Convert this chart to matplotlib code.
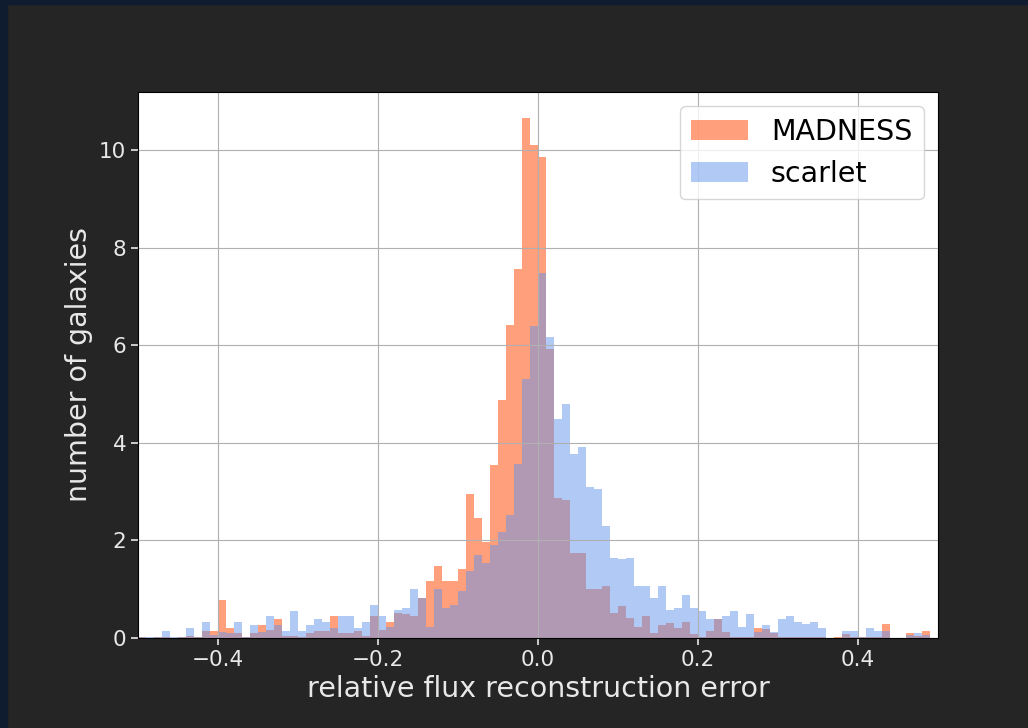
import numpy as np
import matplotlib
matplotlib.use('Agg')
import matplotlib.pyplot as plt
from matplotlib.patches import Rectangle

# bin edges of the normalised histograms
bin_edges = np.linspace(-0.5, 0.5, 101)

# density per bin (bins of 0.01 from -0.5 to 0.5)
madness = [0.02, 0.0, 0.02, 0.03, 0.0, 0.02, 0.04, 0.02, 0.15, 0.15,
           0.78, 0.21, 0.1, 0.02, 0.1, 0.27, 0.16, 0.38, 0.05, 0.05,
           0.03, 0.1, 0.14, 0.14, 0.45, 0.1, 0.1, 0.14, 0.05, 0.45,
           0.16, 0.33, 0.52, 0.5, 0.45, 0.81, 1.17, 1.48, 1.17, 1.17,
           1.41, 2.96, 2.45, 1.97, 3.55, 4.88, 6.41, 7.56, 10.66, 10.1,
           9.86, 5.92, 2.86, 2.83, 1.75, 1.75, 1.0, 1.0, 1.07, 0.51,
           0.66, 0.40, 0.23, 0.45, 0.1, 0.27, 0.31, 0.2, 0.32, 0.08,
           0.03, 0.15, 0.38, 0.13, 0.03, 0.02, 0.03, 0.21, 0.18, 0.1,
           0.02, 0.02, 0.02, 0.02, 0.02, 0.02, 0.01, 0.03, 0.08, 0.02,
           0.02, 0.02, 0.03, 0.28, 0.01, 0.01, 0.1, 0.05, 0.15, 0.0]
scarlet = [0.02, 0.02, 0.02, 0.15, 0.02, 0.02, 0.21, 0.03, 0.33, 0.06,
           0.13, 0.1, 0.33, 0.03, 0.27, 0.12, 0.45, 0.27, 0.14, 0.56,
           0.14, 0.27, 0.38, 0.33, 0.2, 0.45, 0.45, 0.2, 0.33, 0.68,
           0.45, 0.22, 0.57, 0.62, 1.0, 0.82, 0.22, 1.0, 0.62, 0.68,
           0.97, 1.37, 1.71, 1.53, 1.9, 2.18, 2.53, 3.56, 5.3, 6.39,
           7.48, 6.17, 4.48, 4.79, 3.78, 3.92, 3.10, 3.05, 2.3, 1.65,
           1.61, 1.65, 1.07, 1.07, 0.81, 1.07, 0.57, 0.62, 0.88, 0.62,
           0.56, 0.38, 0.38, 0.45, 0.56, 0.22, 0.5, 0.12, 0.27, 0.13,
           0.38, 0.45, 0.33, 0.28, 0.33, 0.21, 0.01, 0.01, 0.15, 0.15,
           0.02, 0.21, 0.15, 0.15, 0.01, 0.01, 0.06, 0.1, 0.06, 0.0]
labels = ['MADNESS', 'scarlet']

bg = '#252525'
txt = '#e8e8e8'

fig = plt.figure(figsize=(10.28, 7.28), dpi=100, facecolor=bg)
# dark blue slide border on the left/top edge
fig.add_artist(Rectangle((0, 0), 7 / 1028, 1, transform=fig.transFigure, color='#0f1b2e', zorder=0))
fig.add_artist(Rectangle((0, 1 - 4 / 728), 1, 4 / 728, transform=fig.transFigure, color='#0f1b2e', zorder=0))

ax = fig.add_axes([138 / 1028, 1 - 638 / 728, 800 / 1028, 546 / 728])
ax.set_facecolor('white')

centers = bin_edges[:-1] + np.diff(bin_edges) / 2
ax.hist(centers, bins=bin_edges, weights=madness, color='coral', alpha=0.75, label=labels[0])
ax.hist(centers, bins=bin_edges, weights=scarlet, color='cornflowerblue', alpha=0.5, label=labels[1])

ax.set_xlim(-0.5, 0.5)
ax.set_xticks([-0.4, -0.2, 0.0, 0.2, 0.4])
ax.set_yticks([0, 2, 4, 6, 8, 10])
ax.grid(True)
ax.tick_params(colors=txt, labelsize=15.5, length=5, width=1.2)
for sp in ax.spines.values():
    sp.set_color('black')

ax.set_xlabel('relative flux reconstruction error', fontsize=20.5, color=txt)
ax.set_ylabel('number of galaxies', fontsize=20.5, color=txt)
ax.legend(loc='upper right', fontsize=20.5)

plt.savefig('out.png', dpi=100, facecolor=bg)
